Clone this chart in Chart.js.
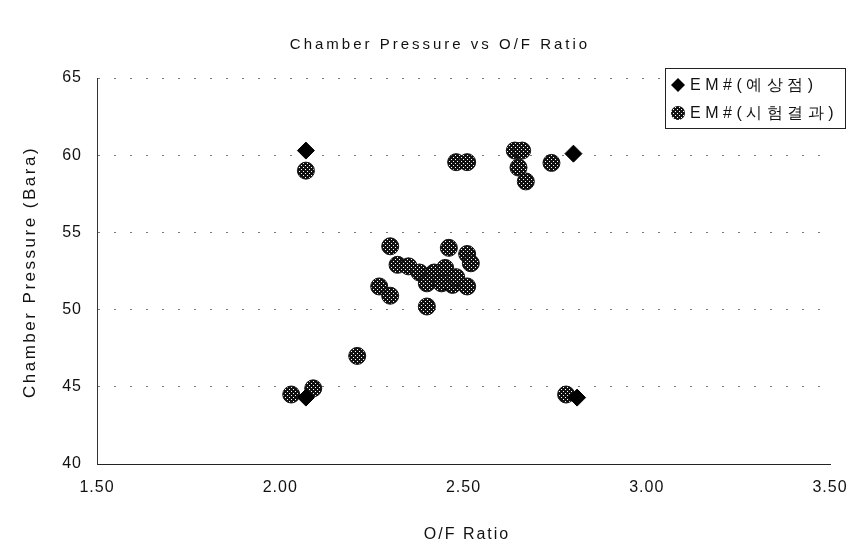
<!DOCTYPE html>
<html>
<head>
<meta charset="utf-8">
<script src="https://cdn.jsdelivr.net/npm/chart.js@4"></script>
<style>
  html, body { margin: 0; padding: 0; background: #fff; }
  #wrap { width: 848px; height: 549px; }
</style>
</head>
<body>
<div id="wrap"><canvas id="chart" width="848" height="549"></canvas></div>
<script>
// chart values
const chartTitle = "Chamber Pressure vs O/F Ratio";
const xTitle = "O/F Ratio";
const yTitle = "Chamber Pressure (Bara)";
const seriesNames = ["EM#(예상점)", "EM#(시험결과)"];
const xTickLabels = ["1.50", "2.00", "2.50", "3.00", "3.50"];
const yTickLabels = ["40", "45", "50", "55", "60", "65"];

// predicted points (diamonds)
const predictedOF = [2.07, 2.80, 2.07, 2.81];
const predictedPc = [60.3, 60.1, 44.3, 44.3];

// test results (hatched circles)
const testOF = [2.07, 2.48, 2.51, 2.64, 2.66, 2.65, 2.67, 2.74,
  2.30, 2.46, 2.51, 2.52, 2.32, 2.35, 2.38, 2.40, 2.42, 2.45,
  2.40, 2.44, 2.47, 2.48, 2.51, 2.27, 2.30, 2.40, 2.21,
  2.03, 2.09, 2.78];
const testPc = [59.0, 59.55, 59.55, 60.3, 60.3, 59.2, 58.3, 59.5,
  54.1, 54.0, 53.6, 53.0, 52.9, 52.8, 52.4, 52.1, 52.4, 52.7,
  51.7, 51.7, 51.6, 52.1, 51.5, 51.5, 50.9, 50.2, 47.0,
  44.5, 44.9, 44.5];

const toPoints = (xs, ys) => xs.map((x, i) => ({ x: x, y: ys[i] }));

// black fill with small white dots, like the printed halftone markers
function dotPattern(){
  const c = document.createElement("canvas");
  c.width = 4; c.height = 4;
  const g = c.getContext("2d");
  g.fillStyle = "#111";
  g.fillRect(0, 0, 4, 4);
  g.fillStyle = "#fff";
  g.fillRect(1, 1, 1, 1);
  g.fillRect(3, 3, 1, 1);
  return g.createPattern(c, "repeat");
}
const hatch = dotPattern();

const FONT = "'Liberation Sans', Arial, sans-serif";

// the scanned original uses a wide-set font; spread the letters a bit
const spacingPlugin = {
  id: "spacing",
  beforeDraw(chart){ chart.ctx.letterSpacing = "1px"; }
};

// titles and boxed legend, drawn at fixed spots
const decorPlugin = {
  id: "decor",
  afterDraw(chart){
    const ctx = chart.ctx;
    ctx.save();
    ctx.fillStyle = "#111";
    ctx.textAlign = "center";
    ctx.textBaseline = "middle";

    ctx.letterSpacing = "3px";
    ctx.font = "15px " + FONT;
    ctx.fillText(chartTitle, 440, 45);

    ctx.letterSpacing = "2px";
    ctx.font = "16px " + FONT;
    ctx.fillText(xTitle, 467, 535);

    ctx.save();
    ctx.translate(30, 272);
    ctx.rotate(-Math.PI / 2);
    ctx.letterSpacing = "2.5px";
    ctx.font = "17px " + FONT;
    ctx.fillText(yTitle, 0, 0);
    ctx.restore();

    // legend box
    ctx.fillStyle = "#fff";
    ctx.fillRect(665, 68, 180, 60);
    ctx.strokeStyle = "#222";
    ctx.lineWidth = 1;
    ctx.strokeRect(665.5, 68.5, 180, 60);

    // diamond
    ctx.fillStyle = "#000";
    ctx.beginPath();
    ctx.moveTo(678, 78); ctx.lineTo(685, 85); ctx.lineTo(678, 92); ctx.lineTo(671, 85);
    ctx.closePath();
    ctx.fill();
    // hatched circle
    ctx.fillStyle = hatch;
    ctx.beginPath();
    ctx.arc(678, 113, 7, 0, Math.PI * 2);
    ctx.fill();

    ctx.fillStyle = "#111";
    ctx.font = "16px " + FONT;
    ctx.textAlign = "left";
    ctx.letterSpacing = "4.5px";
    ctx.fillText(seriesNames[0], 690, 86);
    ctx.fillText(seriesNames[1], 690, 114);
    ctx.restore();
  }
};

new Chart(document.getElementById("chart"), {
  type: "scatter",
  data: {
    datasets: [
      {
        label: seriesNames[0],
        data: toPoints(predictedOF, predictedPc),
        pointStyle: "rectRot",
        pointRadius: 8.5,
        pointHoverRadius: 8.5,
        backgroundColor: "#000",
        borderColor: "#000",
        borderWidth: 1
      },
      {
        label: seriesNames[1],
        data: toPoints(testOF, testPc),
        pointStyle: "circle",
        pointRadius: 8.5,
        pointHoverRadius: 8.5,
        backgroundColor: hatch,
        borderColor: "#111",
        borderWidth: 1
      }
    ]
  },
  options: {
    responsive: false,
    animation: false,
    layout: { padding: { top: 78, right: 0, left: 0, bottom: 0 } },
    plugins: {
      legend: { display: false },
      title: { display: false },
      tooltip: { enabled: false }
    },
    scales: {
      x: {
        type: "linear",
        min: 1.5,
        max: 3.5,
        afterFit(scale){
          scale.height = 85;
          scale.paddingLeft = 0;
          scale.paddingRight = 18;
        },
        afterBuildTicks(scale){
          scale.ticks = xTickLabels.map(v => ({ value: parseFloat(v) }));
        },
        ticks: {
          color: "#111",
          font: { family: FONT, size: 16 },
          padding: 14,
          callback: (v) => Number(v).toFixed(2)
        },
        grid: { display: true, drawOnChartArea: false, drawTicks: false },
        border: { display: true, color: "#222", width: 1 }
      },
      y: {
        type: "linear",
        min: 40,
        max: 65,
        afterFit(scale){ scale.width = 97; },
        afterBuildTicks(scale){
          scale.ticks = yTickLabels.map(v => ({ value: parseFloat(v) }));
        },
        ticks: {
          color: "#111",
          font: { family: FONT, size: 16 },
          padding: 15
        },
        grid: {
          color: "#777",
          lineWidth: 1,
          drawTicks: false
        },
        border: { display: true, color: "#333", width: 1, dash: [2, 14] }
      }
    }
  },
  plugins: [spacingPlugin, decorPlugin]
});
</script>
</body>
</html>
